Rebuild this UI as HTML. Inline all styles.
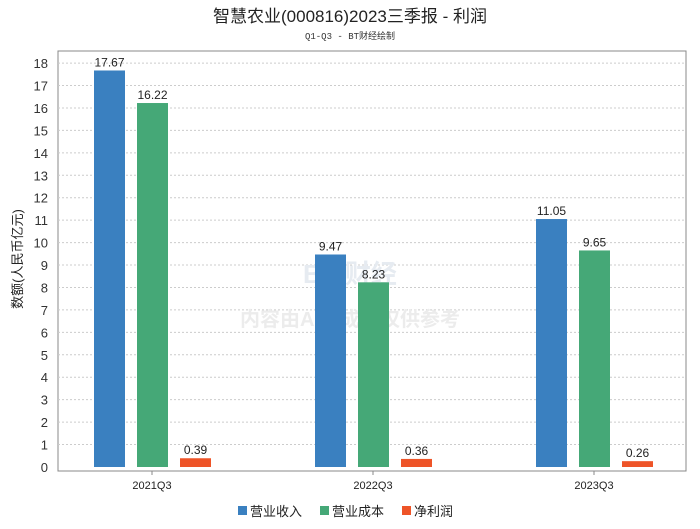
<!DOCTYPE html>
<html><head><meta charset="utf-8"><style>
body{margin:0;background:#fff;font-family:"Liberation Sans","Noto Sans CJK SC",sans-serif}
</style></head><body>
<svg width="700" height="524" xmlns="http://www.w3.org/2000/svg" font-family="Liberation Sans, Noto Sans CJK SC, sans-serif">
<text x="350" y="22" text-anchor="middle" font-size="17" fill="#222">智慧农业(000816)2023三季报 - 利润</text>
<text x="350" y="39" text-anchor="middle" font-size="9" fill="#333" font-family="Liberation Mono, Noto Sans CJK SC, monospace">Q1-Q3 - BT财经绘制</text>
<rect x="58" y="51" width="628" height="420" fill="none" stroke="#888"/>
<g id="grid"></g>
<text x="350" y="283" text-anchor="middle" font-size="26" fill="#e6ebf1" font-weight="bold">BT 财经</text>
<text x="350" y="326" text-anchor="middle" font-size="20" fill="#ececec" font-weight="bold">内容由AI生成，仅供参考</text>
<g id="bars"></g><g id="labels"></g>
<text transform="translate(22,259) rotate(-90)" text-anchor="middle" font-size="13" fill="#222">数额(人民币亿元)</text>
<g>
<rect x="238" y="506" width="9" height="9" fill="#3a80c0"/>
<text x="250" y="516" font-size="13" fill="#222">营业收入</text>
<rect x="320" y="506" width="9" height="9" fill="#45a877"/>
<text x="332" y="516" font-size="13" fill="#222">营业成本</text>
<rect x="402" y="506" width="9" height="9" fill="#ee5428"/>
<text x="414" y="516" font-size="13" fill="#222">净利润</text>
</g>
</svg>
<script>
const categories=["2021Q3","2022Q3","2023Q3"];
const revenue=[17.67,9.47,11.05];
const cost=[16.22,8.23,9.65];
const profit=[0.39,0.36,0.26];
const yTicks=[0,1,2,3,4,5,6,7,8,9,10,11,12,13,14,15,16,17,18];
const NS="http://www.w3.org/2000/svg";
const y=v=>467-v*22.44;
const xc=i=>152+i*221;
function mk(tag,attrs,parent){const e=document.createElementNS(NS,tag);for(const k in attrs)e.setAttribute(k,attrs[k]);parent.appendChild(e);return e;}
const grid=document.getElementById('grid'),bars=document.getElementById('bars'),labels=document.getElementById('labels');
yTicks.forEach(t=>{
 if(t>0){const l=mk('line',{x1:58,x2:686,y1:y(t),y2:y(t),stroke:'#ccc','stroke-dasharray':'2,2'},grid);
 
 }
 const tx=mk('text',{x:48,y:y(t)+5,'text-anchor':'end','font-size':13,fill:'#333'},grid);tx.textContent=t;
 
 
});
const series=[[revenue,'#3a80c0','revenue'],[cost,'#45a877','cost'],[profit,'#ee5428','profit']];
categories.forEach((c,i)=>{
 series.forEach(([arr,col,nm],j)=>{
  const x=xc(i)-58+j*43,v=arr[i];
  const r=mk('rect',{x:x,y:y(v),width:31,height:467-y(v),fill:col},bars);
  
  
  const t=mk('text',{x:x+15.5,y:y(v)-4,'text-anchor':'middle','font-size':12,fill:'#222'},labels);t.textContent=v.toFixed(2);
  
  
 });
 const tk=mk('line',{x1:xc(i),x2:xc(i),y1:471,y2:475,stroke:'#888'},labels);
 
 
 const xl=mk('text',{x:xc(i),y:489,'text-anchor':'middle','font-size':11,fill:'#222'},labels);xl.textContent=c;
 
 
});
</script>
</body></html>
